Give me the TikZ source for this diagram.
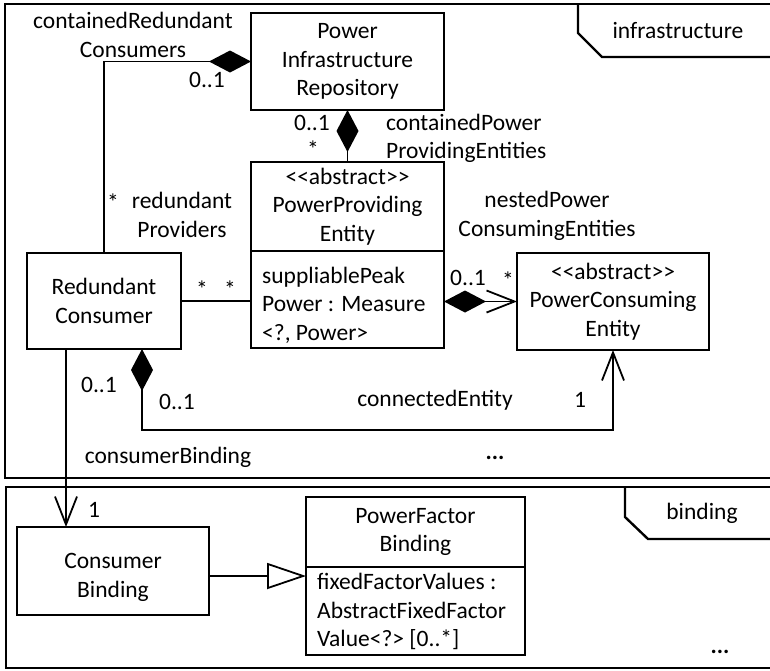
\documentclass[tikz,border=0pt]{standalone}
\usepackage{fontspec}
\setmainfont{Carlito}
\usetikzlibrary{arrows.meta,calc}

% UML stereotype guillemets written as two angle brackets
\newcommand\stereotype[1]{<\kern0pt<#1>\kern0pt>}
\newcommand\umlfont{\fontsize{23.5pt}{28.5pt}\selectfont}

\tikzset{
  classbox/.style={draw, line width=1.8pt, rectangle, inner sep=0pt, outer sep=0pt,
                   align=center, font=\umlfont},
  txt/.style={inner sep=0pt, align=center, font=\umlfont},
  attrtxt/.style={inner sep=0pt, align=left, anchor=west, font=\umlfont},
  assoc/.style={line width=1.8pt},
  pkgframe/.style={line width=2.4pt},
  umlcomp/.tip={Diamond[length=42pt,width=22pt]},
  umlnav/.tip={Straight Barb[length=28pt,width=22pt]},
  umlgen/.tip={Triangle[open,length=39pt,width=26pt,fill=white]},
}

\begin{document}
\begin{tikzpicture}[x=1pt,y=-1pt]
\useasboundingbox (0,0) rectangle (770,670);
\clip (0,0) rectangle (770,670);
\fill[white] (0,0) rectangle (770,670);

% ---------- package frames ----------
\draw[pkgframe] (5,4) rectangle (780,478);
\draw[pkgframe] (578,4) -- (578,33) -- (602,57) -- (780,57);
\node[txt] (infraName) at (678,30) {infrastructure};

\draw[pkgframe] (6,487) rectangle (780,668);
\draw[pkgframe] (625,487) -- (625,517) -- (648,539) -- (780,539);
\node[txt] (bindName) at (702,513) {binding};

\node[txt] (moreInfra) at (495,458) {\textbf{...}};
\node[txt] (moreBind) at (720,652) {\textbf{...}};

% ---------- classes: infrastructure ----------
\node[classbox, minimum width=193pt, minimum height=97pt] (pir) at (347.5,61.5)
  {Power\\Infrastructure\\Repository};

\node[classbox, minimum width=193pt, minimum height=89pt] (ppeH) at (347.5,206.5)
  {\fontsize{23.5pt}{26pt}\selectfont\stereotype{abstract}\\PowerProviding\\Entity};
\node[classbox, minimum width=193pt, minimum height=97pt, anchor=north] (ppeA) at (ppeH.south) {};
\node[attrtxt] (ppeAttr) at (262,305) {suppliablePeak\\Power : Measure\\<?, Power>};

\node[classbox, minimum width=192pt, minimum height=97pt] (pce) at (613,301.5)
  {\stereotype{abstract}\\PowerConsuming\\Entity};

\node[classbox, minimum width=154pt, minimum height=96pt] (rc) at (104,301)
  {Redundant\\Consumer};

% ---------- classes: binding ----------
\node[classbox, minimum width=192pt, minimum height=88pt] (cb) at (113,571) {};
\node[txt] (cbName) at (113,577.5) {Consumer\\Binding};

\node[classbox, minimum width=219pt, minimum height=70pt] (pfbH) at (415.5,532)
  {PowerFactor\\Binding};
\node[classbox, minimum width=219pt, minimum height=88pt, anchor=north] (pfbA) at (pfbH.south) {};
\node[attrtxt] (pfbAttr) at (317,611.5) {fixedFactorValues :\\AbstractFixedFactor\\Value<?> [0..*]};

% ---------- connectors ----------
% repository contains redundant consumers
\draw[assoc, {umlcomp}-] (pir.west) -| (rc.north);
\node[txt] (lCRC) at (133,35) {containedRedundant\\Consumers};
\node[txt] (mCRC) at (207,80) {0..1};

% repository contains providing entities
\draw[assoc, {umlcomp}-] (pir.south) -- (ppeH.north);
\node[txt] (mCPE1) at (312,123) {0..1};
\node[txt] (mCPE2) at (313,149) {*};
\node[txt, align=left, anchor=west] (lCPE) at (386,138.5) {containedPower\\ProvidingEntities};

% redundant providers
\draw[assoc] (rc.east) -- (rc.east -| ppeA.west);
\node[txt] (mRP0) at (113,202) {*};
\node[txt] (lRP) at (182,215) {redundant\\Providers};
\node[txt] (mRP1) at (202,289) {*};
\node[txt] (mRP2) at (230,289) {*};

% nested power consuming entities
\draw[assoc, {umlcomp}-{umlnav}] (pce.west -| ppeA.east) -- (pce.west);
\node[txt] (mNPC1) at (468,278) {0..1};
\node[txt] (mNPC2) at (508,280) {*};
\node[txt] (lNPC) at (547,216) {nestedPower\\ConsumingEntities};

% connected entity
\coordinate (rcComp) at ([xshift=38pt]rc.south);
\draw[assoc, {umlcomp}-{umlnav}] (rcComp) -- ++(0,81) -| (pce.south);
\node[txt] (mCE1) at (99,385) {0..1};
\node[txt] (mCE2) at (177,402) {0..1};
\node[txt] (lCE) at (435,400) {connectedEntity};
\node[txt] (mCE3) at (580,400) {1};

% consumer binding
\coordinate (rcBind) at ([xshift=-38pt]rc.south);
\draw[assoc, -{umlnav}] (rcBind) -- (rcBind |- cb.north);
\node[txt] (lCB) at (168,457) {consumerBinding};
\node[txt] (mCB) at (94,510) {1};

% generalization
\draw[assoc, -{umlgen}] ([yshift=-5pt]cb.east) -- ([yshift=-5pt]cb.east -| pfbA.west);

\end{tikzpicture}
\end{document}
